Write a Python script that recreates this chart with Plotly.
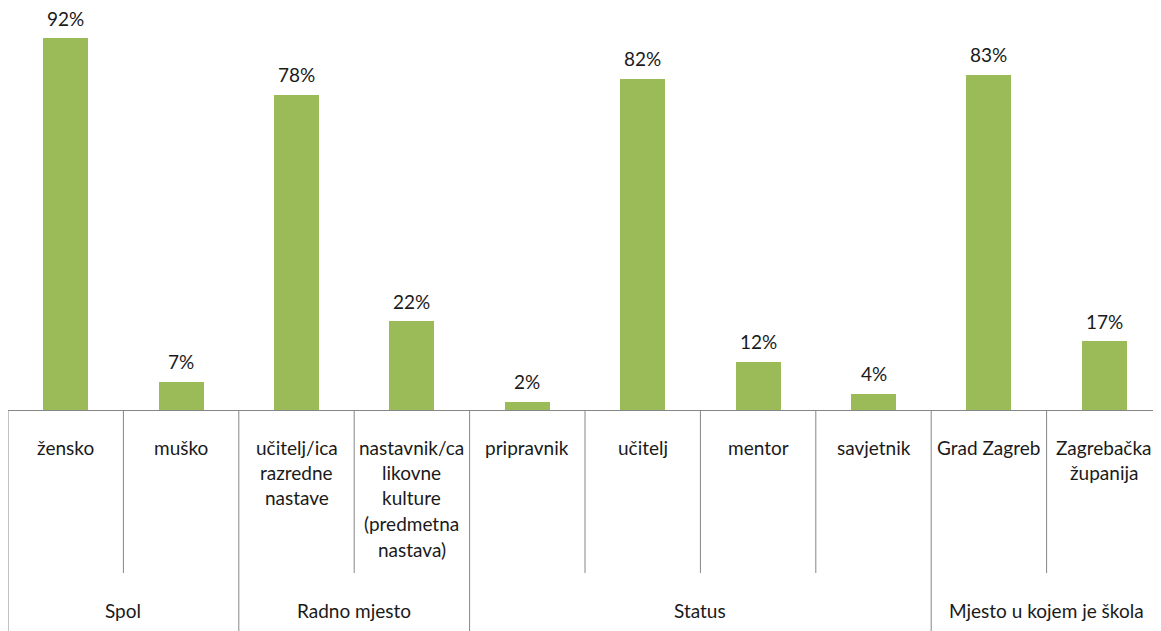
import plotly.graph_objects as go

categories = ["žensko", "muško", "učitelj/ica<br>razredne<br>nastave",
              "nastavnik/ca<br>likovne<br>kulture<br>(predmetna<br>nastava)",
              "pripravnik", "učitelj", "mentor", "savjetnik",
              "Grad Zagreb", "Zagrebačka<br>županija"]
values = [92, 7, 78, 22, 2, 82, 12, 4, 83, 17]
groups = ["Spol", "Radno mjesto", "Status", "Mjesto u kojem je škola"]
group_sizes = [2, 2, 4, 2]

W, H = 1161, 631
OFF = 8  # page body margin offset
ML, MR, MT = 0, 0, 0
axis_page_y = 410
MB = H - (axis_page_y - OFF)
cat_px = 115.4
x_lo = -0.5
x_hi = x_lo + (W - ML - MR) / cat_px
plot_h = H - MT - MB
FONT = "Lato"
FS = 19
TXT = "#1a1a1a"
LINE = "#868686"

def xpaper(x):
    return (x - x_lo) / (x_hi - x_lo)

def ypaper(page_y):
    return (H - MB - (page_y - OFF)) / plot_h

xs = list(range(len(categories)))
fig = go.Figure(go.Bar(x=xs, y=values, width=0.39, marker=dict(color="#9BBB59", line=dict(width=0)),
                       hoverinfo="skip"))

ann = []
for i, v in enumerate(values):
    ann.append(dict(x=i, y=v, xref="x", yref="y", text=f"{v}%", showarrow=False,
                    yanchor="middle", yshift=20, font=dict(family=FONT, size=FS, color=TXT)))
    lines = categories[i].split("<br>")
    for k, ln in enumerate(lines):
        ann.append(dict(x=i, y=ypaper(447 + 25.5 * k), xref="x", yref="paper", text=ln,
                        showarrow=False, yanchor="middle", font=dict(family=FONT, size=FS, color=TXT)))

shapes = []
start = 0
group_bounds = set([0])
for g, n in zip(groups, group_sizes):
    center = start + (n - 1) / 2
    ann.append(dict(x=center, y=ypaper(610), xref="x", yref="paper", text=g, showarrow=False,
                    yanchor="middle", font=dict(family=FONT, size=FS, color=TXT)))
    start += n
    group_bounds.add(start)

for b in range(len(categories) + 1):
    xp = xpaper(b - 0.5)
    if xp > 1:
        continue
    yend = ypaper(H + OFF) if b in group_bounds else ypaper(573)
    shapes.append(dict(type="line", xref="paper", yref="paper", x0=xp, x1=xp, y0=0, y1=yend,
                       line=dict(color=LINE, width=1)))

fig.update_layout(
    width=W, height=H, margin=dict(l=ML, r=MR, t=MT, b=MB),
    paper_bgcolor="white", plot_bgcolor="white", showlegend=False,
    xaxis=dict(range=[x_lo, x_hi], showticklabels=False, showgrid=False, zeroline=False,
               showline=True, linecolor=LINE, linewidth=1, ticks=""),
    yaxis=dict(range=[0, plot_h / 4.04], visible=False, showgrid=False, zeroline=False),
    annotations=ann, shapes=shapes, bargap=0,
)
fig.write_html("out.html")
